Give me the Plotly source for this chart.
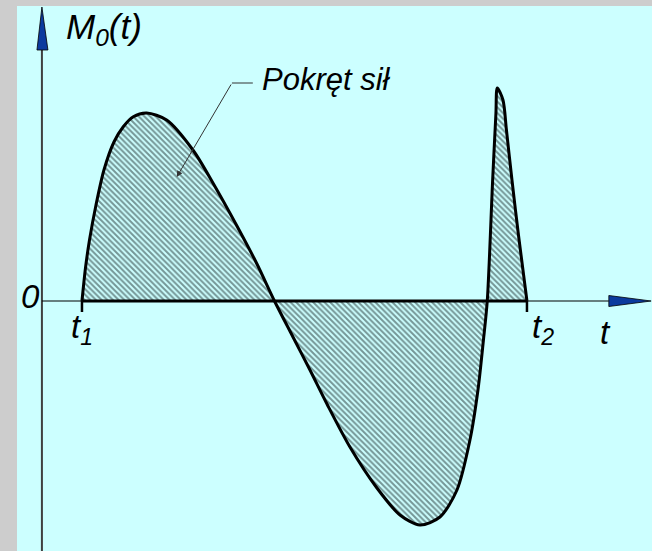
import plotly.graph_objects as go

# Torque curve M0(t) between t1 and t2 (t normalised: t1 = 0, t2 = 1)
t_vals = [0.0, 0.0079, 0.0169, 0.0315, 0.0494, 0.0719, 0.0928, 0.1153, 0.1454,
          0.1903, 0.2494, 0.2944, 0.3483, 0.3933, 0.4326, 0.4742, 0.5124,
          0.5506, 0.6022, 0.6629, 0.7146, 0.7596, 0.8045, 0.8427, 0.8719,
          0.8899, 0.9022, 0.9108, 0.9229, 0.9303, 0.9333, 0.9461, 0.9539,
          0.9663, 0.9809, 1.0]
m_vals = [0.0, 0.33, 0.61, 0.96, 1.31, 1.59, 1.743, 1.843, 1.88,
          1.81, 1.51, 1.18, 0.75, 0.37, 0.0, -0.36, -0.69,
          -1.03, -1.46, -1.87, -2.14, -2.24, -2.16, -1.89, -1.39,
          -0.89, -0.39, 0.0, 1.21, 1.88, 2.13, 2.01, 1.71,
          1.21, 0.66, 0.0]

t1, t2 = 0.0, 1.0
y_axis_t = -0.09          # position of the vertical M axis
x_axis_end = 1.184        # where the t axis arrow head starts
x_arrow_tip = 1.279
y_axis_bottom = -2.5
y_arrow_base, y_arrow_tip = 2.51, 2.94

X_RANGE = [-0.146, 1.281]
Y_RANGE = [-2.5, 2.95]

BG = "#ccffff"
FRAME = "#cdcdcd"
BLUE = "#0b3a9e"
FONT = "Liberation Sans, Arial, sans-serif"

fig = go.Figure()

# hatched area under the torque curve
fig.add_trace(go.Scatter(
    x=t_vals, y=m_vals, mode="lines",
    line=dict(color="black", width=3, shape="spline", smoothing=0.8),
    fill="tozeroy", fillcolor="rgba(0,0,0,0)",
    fillpattern=dict(shape="\\", fgcolor="#1e2e2e", bgcolor=BG,
                     size=4, solidity=0.5),
    hoverinfo="skip", showlegend=False,
))

# thick baseline between t1 and t2
fig.add_trace(go.Scatter(
    x=[t1, t2], y=[0, 0], mode="lines",
    line=dict(color="black", width=3),
    hoverinfo="skip", showlegend=False,
))

shapes = [
    # vertical axis
    dict(type="line", xref="x", yref="y", x0=y_axis_t, x1=y_axis_t,
         y0=y_axis_bottom, y1=y_arrow_base, line=dict(color="#404040", width=2),
         layer="below"),
    # horizontal axis
    dict(type="line", xref="x", yref="y", x0=y_axis_t, x1=x_axis_end,
         y0=0, y1=0, line=dict(color="black", width=1.2), layer="below"),
    # arrow heads
    dict(type="path", xref="x", yref="y",
         path=f"M {y_axis_t-0.0112},{y_arrow_base} L {y_axis_t},{y_arrow_tip} "
              f"L {y_axis_t+0.0135},{y_arrow_base} Z",
         fillcolor=BLUE, line=dict(color="black", width=0.8)),
    dict(type="path", xref="x", yref="y",
         path=f"M {x_axis_end},-0.055 L {x_arrow_tip},0 L {x_axis_end},0.055 Z",
         fillcolor=BLUE, line=dict(color="black", width=0.8)),
    # ticks at t1 and t2
    dict(type="line", xref="x", yref="y", x0=t1, x1=t1, y0=0, y1=-0.11,
         line=dict(color="black", width=2.5)),
    dict(type="line", xref="x", yref="y", x0=t2, x1=t2, y0=0, y1=-0.11,
         line=dict(color="black", width=2.5)),
    # leader line for the label
    dict(type="line", xref="x", yref="y", x0=0.384, x1=0.337, y0=2.18, y1=2.18,
         line=dict(color="#333333", width=1)),
]


def font(size):
    return dict(family=FONT, size=size, color="black", style="italic")


annotations = [
    dict(x=-0.040, y=2.72, xref="x", yref="y", text="M<sub>0</sub>(t)",
         showarrow=False, xanchor="left", yanchor="middle", font=font(35)),
    dict(x=0.400, y=2.22, xref="x", yref="y", text="Pokręt sił",
         showarrow=False, xanchor="left", yanchor="middle", font=font(31)),
    dict(x=-0.115, y=0.05, xref="x", yref="y", text="0",
         showarrow=False, xanchor="center", yanchor="middle", font=font(33)),
    dict(x=-0.030, y=-0.28, xref="x", yref="y", text="t<sub>1</sub>",
         showarrow=False, xanchor="left", yanchor="middle", font=font(33)),
    dict(x=1.006, y=-0.28, xref="x", yref="y", text="t<sub>2</sub>",
         showarrow=False, xanchor="left", yanchor="middle", font=font(33)),
    dict(x=1.160, y=-0.31, xref="x", yref="y", text="t",
         showarrow=False, xanchor="left", yanchor="middle", font=font(33)),
    # arrow pointing into the hatched area
    dict(x=0.213, y=1.24, ax=0.337, ay=2.18, xref="x", yref="y",
         axref="x", ayref="y", text="", showarrow=True,
         arrowhead=2, arrowsize=1.2, arrowwidth=1, arrowcolor="#333333"),
]

fig.update_layout(
    width=652, height=551,
    margin=dict(l=17, r=0, t=6, b=0),
    paper_bgcolor=FRAME, plot_bgcolor=BG,
    xaxis=dict(range=X_RANGE, visible=False, fixedrange=True),
    yaxis=dict(range=Y_RANGE, visible=False, fixedrange=True),
    shapes=shapes, annotations=annotations, showlegend=False,
)

fig.write_html("out.html")
